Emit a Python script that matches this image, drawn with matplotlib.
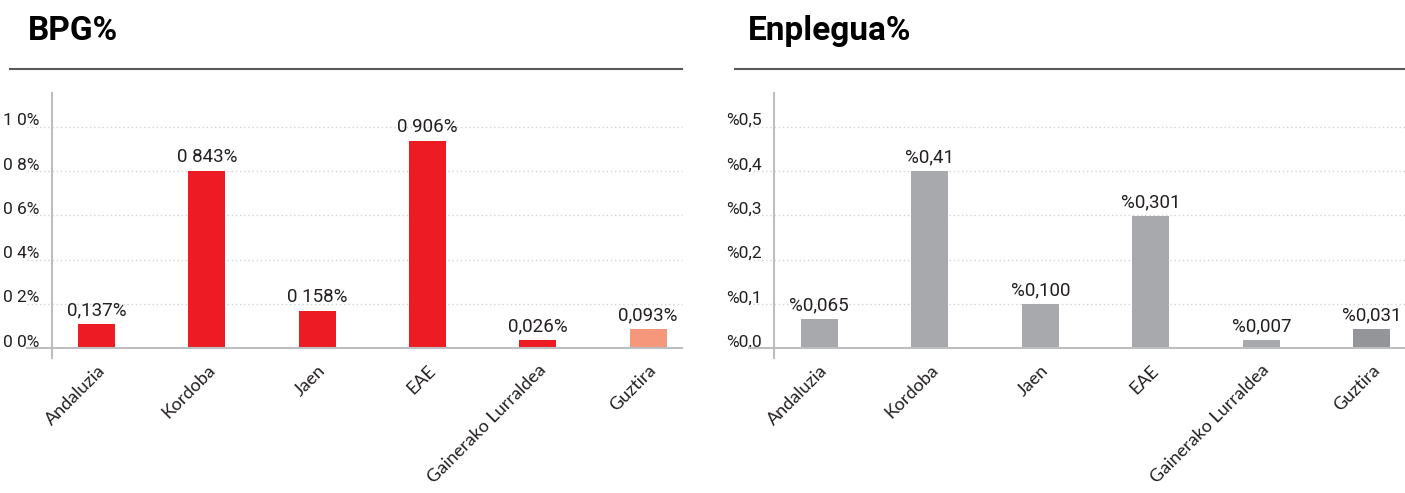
import numpy as np
import matplotlib
matplotlib.use("Agg")
import matplotlib.pyplot as plt
from matplotlib.lines import Line2D
from matplotlib.transforms import ScaledTranslation

categories = ["Andaluzia", "Kordoba", "Jaen", "EAE", "Gainerako Lurraldea", "Guztira"]

# bar heights as drawn in the picture
bpg_values = [0.11, 0.80, 0.17, 0.935, 0.037, 0.087]
bpg_labels = ["0,137%", "0 843%", "0 158%", "0 906%", "0,026%", "0,093%"]
bpg_ticks = [0.0, 0.2, 0.4, 0.6, 0.8, 1.0]
bpg_ticklabels = ["0 0%", "0 2%", "0 4%", "0 6%", "0 8%", "1 0%"]

emp_values = [0.066, 0.40, 0.10, 0.298, 0.019, 0.044]
emp_labels = ["%0,065", "%0,41", "%0,100", "%0,301", "%0,007", "%0,031"]
emp_ticks = [0.0, 0.1, 0.2, 0.3, 0.4, 0.5]
emp_ticklabels = ["%0,0", "%0,1", "%0,2", "%0,3", "%0,4", "%0,5"]

W, H = 1405, 493
NUM_FONT = "Roboto"
CAT_FONT = "Lato"
TEXT = "#231f20"
AXIS = "#bcbec0"


def fx(px):
    return px / W


def fy(px):
    return 1 - px / H


def draw_panel(fig, left_px, right_px, title, title_x, values, labels, ticks, ticklabels,
               colors, ymin, ymax, xmin, xmax):
    ax = fig.add_axes([fx(left_px), fy(358), fx(right_px - left_px), (358 - 93) / H])
    x = np.arange(len(values))
    bars = ax.bar(x, values, width=0.335, color=colors, zorder=3)
    ax.set_xlim(xmin, xmax)
    ax.set_ylim(ymin, ymax)

    ext = -25 / (right_px - left_px)
    trans = ax.get_yaxis_transform()
    for t in ticks[1:]:
        ax.plot([ext, 1], [t, t], transform=trans, color="#d1d3d4", lw=1,
                ls=(0, (1, 2)), clip_on=False, zorder=1)
    ax.plot([ext, 1], [0, 0], transform=trans, color=AXIS, lw=1.5, clip_on=False, zorder=4)

    for s in ["top", "right", "bottom"]:
        ax.spines[s].set_visible(False)
    ax.spines["left"].set_color(AXIS)
    ax.spines["left"].set_linewidth(1.5)

    ax.set_yticks(ticks)
    ax.set_yticklabels(ticklabels, fontfamily=NUM_FONT, fontsize=12.5, color=TEXT)
    ax.tick_params(axis="y", length=0, pad=9)
    off = ScaledTranslation(0, 7.5 / 100, fig.dpi_scale_trans)
    for lab in ax.get_yticklabels():
        lab.set_transform(lab.get_transform() + off)

    ax.set_xticks(x)
    ax.set_xticklabels(categories, rotation=45, ha="right", rotation_mode="anchor",
                       fontfamily=CAT_FONT, fontsize=13, color=TEXT)
    ax.tick_params(axis="x", length=0, pad=3)

    for b, lab in zip(bars, labels):
        ax.annotate(lab, (b.get_x() + b.get_width() / 2, b.get_height()),
                    xytext=(0, 10), textcoords="offset points", ha="center", va="center",
                    fontfamily=NUM_FONT, fontsize=13.5, color=TEXT)

    fig.text(fx(title_x), fy(40), title, fontfamily=NUM_FONT, fontweight="bold",
             fontsize=24, color="#000000", va="baseline", ha="left")
    return ax


fig = plt.figure(figsize=(W / 100, H / 100), dpi=100)

draw_panel(fig, 52, 682, "BPG%", 28, bpg_values, bpg_labels, bpg_ticks, bpg_ticklabels,
           ["#ed1c24"] * 5 + ["#f4977a"], -0.0438, 1.152, -0.405, 5.308)
draw_panel(fig, 774, 1405, "Enplegua%", 748, emp_values, emp_labels, emp_ticks, emp_ticklabels,
           ["#a7a9ac"] * 5 + ["#939598"], -0.0219, 0.576, -0.41, 5.30)

# rules under titles
fig.add_artist(Line2D([fx(10), fx(682)], [fy(69), fy(69)], color="#58595b", lw=1.5))
fig.add_artist(Line2D([fx(735), fx(1405)], [fy(69), fy(69)], color="#58595b", lw=1.5))

fig.savefig("out.png", dpi=100)
